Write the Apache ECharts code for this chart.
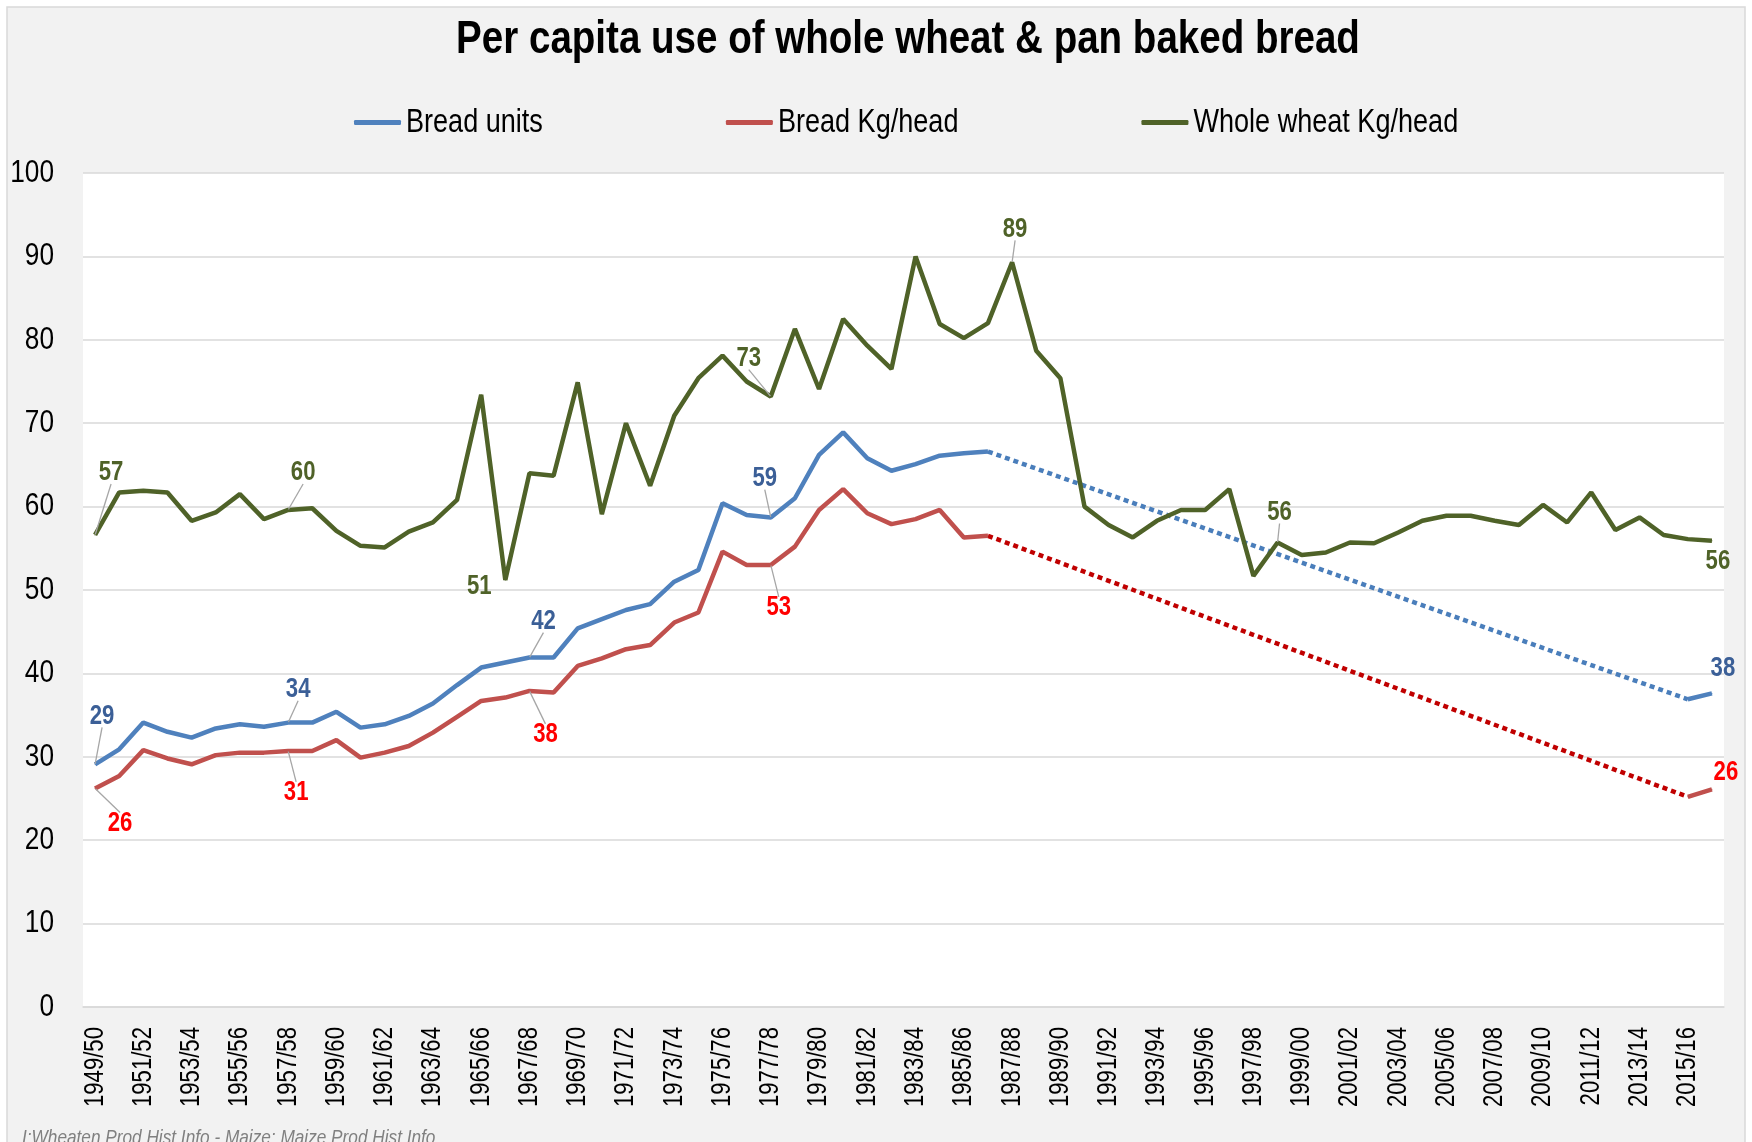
<!DOCTYPE html>
<html>
<head>
<meta charset="utf-8">
<script src="https://cdn.jsdelivr.net/npm/echarts@6/dist/echarts.min.js"></script>
<style>html,body{margin:0;padding:0;background:#fff;}#chart{width:1752px;height:1142px;}</style>
</head>
<body>
<div id="chart"></div>
<script>
var categories = ['1949/50','1950/51','1951/52','1952/53','1953/54','1954/55','1955/56','1956/57','1957/58','1958/59',
'1959/60','1960/61','1961/62','1962/63','1963/64','1964/65','1965/66','1966/67','1967/68','1968/69',
'1969/70','1970/71','1971/72','1972/73','1973/74','1974/75','1975/76','1976/77','1977/78','1978/79',
'1979/80','1980/81','1981/82','1982/83','1983/84','1984/85','1985/86','1986/87','1987/88','1988/89',
'1989/90','1990/91','1991/92','1992/93','1993/94','1994/95','1995/96','1996/97','1997/98','1998/99',
'1999/00','2000/01','2001/02','2002/03','2003/04','2004/05','2005/06','2006/07','2007/08','2008/09',
'2009/10','2010/11','2011/12','2012/13','2013/14','2014/15','2015/16','2016/17'];

var breadUnits = [29.1,30.9,34.1,33.0,32.3,33.4,33.9,33.6,34.1,34.1,
35.4,33.5,33.9,34.9,36.4,38.6,40.7,41.3,41.9,41.9,
45.4,46.5,47.6,48.3,51.0,52.4,60.4,59.0,58.7,61.0,
66.2,68.9,65.8,64.3,65.1,66.1,66.4,66.6,null,null,
null,null,null,null,null,null,null,null,null,null,
null,null,null,null,null,null,null,null,null,null,
null,null,null,null,null,null,36.9,37.6];

var breadKg = [26.2,27.7,30.8,29.8,29.1,30.2,30.5,30.5,30.7,30.7,
32.0,29.9,30.5,31.3,32.9,34.8,36.7,37.1,37.9,37.7,
40.9,41.8,42.9,43.4,46.1,47.3,54.6,53.0,53.0,55.2,
59.6,62.1,59.2,57.9,58.5,59.6,56.3,56.5,null,null,
null,null,null,null,null,null,null,null,null,null,
null,null,null,null,null,null,null,null,null,null,
null,null,null,null,null,null,25.2,26.1];

var wholeWheat = [56.6,61.7,61.9,61.7,58.3,59.3,61.5,58.5,59.6,59.8,
57.1,55.3,55.1,57.0,58.1,60.8,73.4,51.2,64.0,63.7,
74.9,59.1,70.0,62.5,70.9,75.4,78.1,75.0,73.2,81.3,
74.1,82.5,79.3,76.5,90.0,81.9,80.2,82.0,89.3,78.7,
75.4,60.0,57.8,56.3,58.3,59.6,59.6,62.1,51.7,55.7,
54.2,54.5,55.7,55.6,56.9,58.3,58.9,58.9,58.3,57.8,
60.2,58.1,61.7,57.2,58.7,56.6,56.1,55.9];

var yTicks = [0,10,20,30,40,50,60,70,80,90,100];

// indices that carry a data label
var labelIdxBlue = [0, 8, 18, 28, 67];
var labelIdxRed = [0, 8, 18, 28, 67];
var labelIdxGreen = [0, 8, 17, 28, 38, 49, 67];

// label placement (styling only): [dx, dy, leaderLine]
var placeBlue = {0:[7,-48,true],8:[10,-33,true],18:[14,-36,true],28:[-6,-39,true],67:[11,-25,false]};
var placeRed = {0:[25,35,true],8:[8,42,true],18:[16,44,true],28:[8,43,true],67:[14,-17,false]};
var placeGreen = {0:[16,-62,true],8:[15,-37,true],17:[-26,7,false],28:[-22,-38,true],38:[3,-33,true],49:[2,-30,true],67:[6,21,false]};

// Emulate a narrow (condensed) face: Arial-metric font drawn at 82% width.
(function () {
  var S = 0.82;
  var P = CanvasRenderingContext2D.prototype;
  var mt = P.measureText, ft = P.fillText, st = P.strokeText;
  P.measureText = function (t) {
    var m = mt.call(this, t);
    return {
      width: m.width * S,
      actualBoundingBoxAscent: m.actualBoundingBoxAscent,
      actualBoundingBoxDescent: m.actualBoundingBoxDescent,
      actualBoundingBoxLeft: m.actualBoundingBoxLeft * S,
      actualBoundingBoxRight: m.actualBoundingBoxRight * S,
      fontBoundingBoxAscent: m.fontBoundingBoxAscent,
      fontBoundingBoxDescent: m.fontBoundingBoxDescent
    };
  };
  P.fillText = function (t, x, y) {
    this.save(); this.translate(x, y); this.scale(S, 1); ft.call(this, t, 0, 0); this.restore();
  };
  P.strokeText = function (t, x, y) {
    this.save(); this.translate(x, y); this.scale(S, 1); st.call(this, t, 0, 0); this.restore();
  };
})();

var FONT = "'Liberation Sans',Arial,sans-serif";

function buildData(values, idxs, place) {
  return values.map(function (v, i) {
    if (idxs.indexOf(i) >= 0 && v != null) {
      return {
        value: v,
        label: { show: true, formatter: function (p) { return Math.round(p.value); } },
        labelLine: { show: place[i][2] }
      };
    }
    return v;
  });
}

// dotted trend between last value before the gap and first value after it
function gapSeries(values) {
  var out = values.map(function () { return null; });
  for (var i = 1; i < values.length; i++) {
    if (values[i] == null && values[i - 1] != null) out[i - 1] = values[i - 1];
    if (values[i] != null && values[i - 1] == null) out[i] = values[i];
  }
  return out;
}

function layoutFn(place) {
  return function (params) {
    var p = place[params.dataIndex];
    if (!p) return {};
    return { dx: p[0], dy: p[1] };
  };
}

var labelBase = {
  show: false,
  position: 'inside',
  fontFamily: FONT,
  fontWeight: 'bold',
  fontSize: 27
};
var leader = { show: false, lineStyle: { color: '#a6a6a6', width: 1.3 } };

var chart = echarts.init(document.getElementById('chart'), null, { renderer: 'canvas' });
chart.setOption({
  backgroundColor: '#f2f2f2',
  animation: false,
  title: {
    text: 'Per capita use of whole wheat & pan baked bread',
    left: 903, top: 16, textAlign: 'center',
    textStyle: { fontFamily: FONT, fontWeight: 'bold', fontSize: 47, color: '#000' }
  },
  legend: {
    data: ['Bread units', 'Bread Kg/head', 'Whole wheat Kg/head'],
    left: 349, top: 104,
    icon: 'roundRect', itemWidth: 47, itemHeight: 5, itemGap: 183,
    textStyle: { fontFamily: FONT, fontSize: 33, color: '#000' }
  },
  grid: { left: 83, right: 28, top: 173, bottom: 135, show: true, backgroundColor: '#fff', borderWidth: 0 },
  xAxis: {
    type: 'category', data: categories, boundaryGap: true,
    axisLine: { lineStyle: { color: '#d9d9d9', width: 1.5 } },
    axisTick: { show: false },
    axisLabel: { interval: 1, rotate: 90, margin: 20, color: '#000', fontFamily: FONT, fontSize: 27 }
  },
  yAxis: {
    type: 'value', min: yTicks[0], max: yTicks[yTicks.length - 1], interval: 10,
    axisLine: { show: false }, axisTick: { show: false },
    splitLine: { lineStyle: { color: '#d9d9d9', width: 1.5 } },
    axisLabel: { margin: 29, color: '#000', fontFamily: FONT, fontSize: 32 }
  },
  graphic: [
    { type: 'rect', shape: { x: 0, y: 0, width: 7, height: 1142 }, style: { fill: '#fff' }, silent: true },
    { type: 'rect', shape: { x: 0, y: 0, width: 1752, height: 7 }, style: { fill: '#fff' }, silent: true },
    { type: 'rect', shape: { x: 1745, y: 0, width: 7, height: 1142 }, style: { fill: '#fff' }, silent: true },
    { type: 'rect', shape: { x: 7, y: 7, width: 1738, height: 1150 }, style: { fill: null, stroke: '#d9d9d9', lineWidth: 1.5 }, silent: true },
    { type: 'text', left: 22, top: 1130, style: { text: 'I:Wheaten Prod Hist Info - Maize: Maize Prod Hist Info', fill: '#808080', font: 'italic 21px ' + FONT }, silent: true }
  ],
  series: [
    { name: 'Bread units trend', type: 'line', data: gapSeries(breadUnits), connectNulls: true, showSymbol: false,
      lineStyle: { color: '#4a7ebb', width: 4.5, type: [5, 4], cap: 'butt' }, itemStyle: { color: '#4a7ebb' }, z: 2 },
    { name: 'Bread Kg/head trend', type: 'line', data: gapSeries(breadKg), connectNulls: true, showSymbol: false,
      lineStyle: { color: '#c00000', width: 4.5, type: [5, 4], cap: 'butt' }, itemStyle: { color: '#c00000' }, z: 2 },
    { name: 'Bread units', type: 'line', data: buildData(breadUnits, labelIdxBlue, placeBlue),
      symbol: 'circle', symbolSize: 1, showSymbol: true, showAllSymbol: true, connectNulls: false,
      lineStyle: { color: '#4f81bd', width: 4.5 }, itemStyle: { color: '#4f81bd' },
      label: Object.assign({}, labelBase, { color: '#3b5f97' }), labelLine: leader,
      labelLayout: layoutFn(placeBlue), z: 3 },
    { name: 'Bread Kg/head', type: 'line', data: buildData(breadKg, labelIdxRed, placeRed),
      symbol: 'circle', symbolSize: 1, showSymbol: true, showAllSymbol: true, connectNulls: false,
      lineStyle: { color: '#c0504d', width: 4.5 }, itemStyle: { color: '#c0504d' },
      label: Object.assign({}, labelBase, { color: '#ff0000' }), labelLine: leader,
      labelLayout: layoutFn(placeRed), z: 3 },
    { name: 'Whole wheat Kg/head', type: 'line', data: buildData(wholeWheat, labelIdxGreen, placeGreen),
      symbol: 'circle', symbolSize: 1, showSymbol: true, showAllSymbol: true,
      lineStyle: { color: '#4f6228', width: 4.5 }, itemStyle: { color: '#4f6228' },
      label: Object.assign({}, labelBase, { color: '#4f6228' }), labelLine: leader,
      labelLayout: layoutFn(placeGreen), z: 4 }
  ]
});
</script>
</body>
</html>
